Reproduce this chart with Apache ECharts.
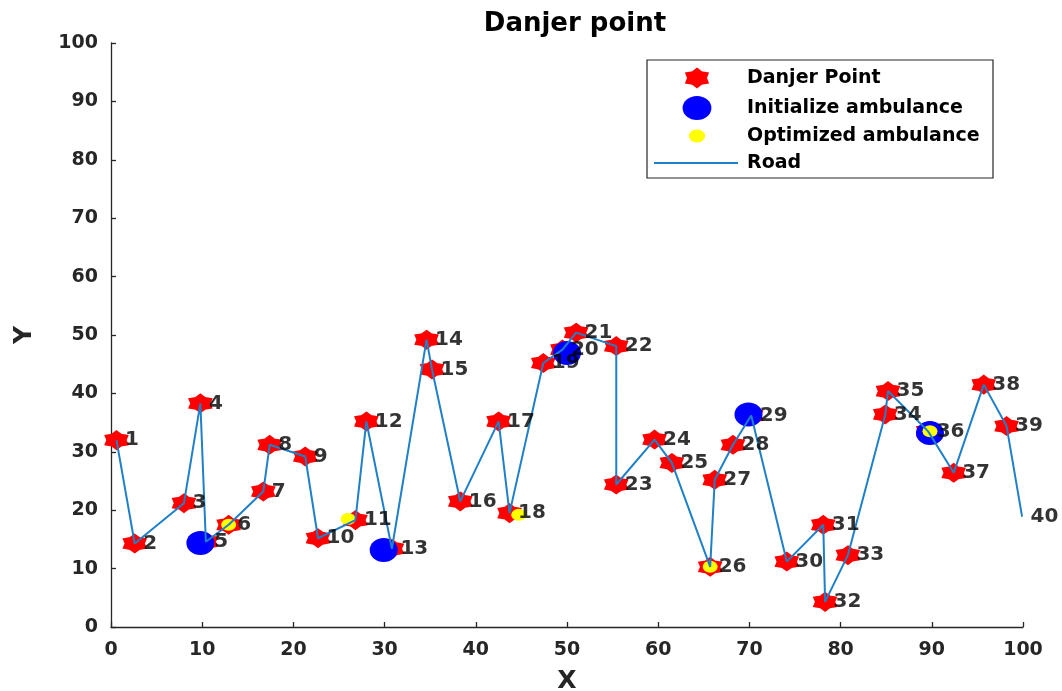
<!DOCTYPE html>
<html>
<head>
<meta charset="utf-8">
<script src="https://cdn.jsdelivr.net/npm/echarts@6/dist/echarts.min.js"></script>
<style>
html,body{margin:0;padding:0;background:#fff;}
#chart{width:1062px;height:691px;}
</style>
</head>
<body>
<div id="chart"></div>
<script>
// Road / danger point coordinates (point i+1)
const roadX = [0.6, 2.6, 8.0, 9.8, 10.4, 12.9, 16.7, 17.4, 21.3, 22.7,
               26.8, 28.0, 30.8, 34.6, 35.2, 38.3, 42.5, 43.7, 47.4, 49.5,
               51.0, 55.4, 55.4, 59.6, 61.5, 65.7, 66.2, 68.2, 70.2, 74.1,
               78.1, 78.3, 80.8, 84.9, 85.2, 89.6, 92.4, 95.7, 98.2, 99.9];
const roadY = [32.0, 14.3, 21.2, 38.3, 14.6, 17.5, 23.2, 31.2, 29.2, 15.2,
               18.3, 35.2, 13.4, 49.2, 44.1, 21.5, 35.2, 19.5, 45.2, 47.5,
               50.4, 48.1, 24.4, 32.1, 28.1, 10.3, 25.2, 31.2, 36.2, 11.2,
               17.5, 4.3, 12.3, 36.4, 40.4, 33.5, 26.4, 41.5, 34.4, 18.9];
const dangerCount = 39; // markers drawn for points 1..39
const initX = [9.8, 29.9, 50.0, 69.9, 89.8];
const initY = [14.4, 13.2, 46.9, 36.4, 33.2];
const optX = [12.9, 26.0, 44.7, 65.7, 89.8];
const optY = [17.5, 18.5, 19.2, 10.3, 33.5];
const axisTicks = [0, 10, 20, 30, 40, 50, 60, 70, 80, 90, 100];
const legendNames = ['Danjer Point', 'Initialize ambulance', 'Optimized ambulance', 'Road'];
const titleText = 'Danjer point';

const FONT = 'DejaVu Sans';
const RI = 0.72;
const hexUnit = [];
for (let k = 0; k < 12; k++) {
  const a = -Math.PI / 2 + k * Math.PI / 6;
  const r = k % 2 ? RI : 1;
  hexUnit.push([r * Math.cos(a), r * Math.sin(a)]);
}
const hexagram = 'path://' + hexUnit.map((p, i) => (i ? 'L' : 'M') + (100 + p[0] * 100).toFixed(1) + ',' + (100 + p[1] * 100).toFixed(1)).join(' ') + ' Z';
const zip = (xs, ys) => xs.map((x, i) => [x, ys[i]]);
const roadData = zip(roadX, roadY);
const dangerData = roadData.slice(0, dangerCount);

const axisCommon = {
  type: 'value', min: axisTicks[0], max: axisTicks[axisTicks.length - 1], interval: 10,
  splitLine: { show: false },
  axisLine: { show: true, lineStyle: { color: '#262626', width: 1.3 } },
  axisTick: { show: true, inside: true, length: 5, lineStyle: { color: '#262626', width: 1.3 } },
  axisLabel: { color: '#262626', fontFamily: FONT, fontWeight: 'bold', fontSize: 19 },
  nameTextStyle: { color: '#262626', fontFamily: FONT, fontWeight: 'bold', fontSize: 25 },
  nameLocation: 'middle'
};

const legendGraphic = [
  { type: 'rect', shape: { x: 647, y: 60, width: 346, height: 118 }, style: { fill: '#fff', stroke: '#262626', lineWidth: 1.2 }, z: 100 },
  { type: 'polygon', x: 697, y: 78, shape: { points: hexUnit.map(p => [p[0] * 12, p[1] * 9]) }, style: { fill: '#ff0000', stroke: '#ff0000', lineWidth: 2.5 }, z: 101 },
  { type: 'circle', x: 697, y: 108, scaleX: 1.2, shape: { cx: 0, cy: 0, r: 12 }, style: { fill: '#0000ff' }, z: 101 },
  { type: 'circle', x: 697, y: 136, scaleX: 1.25, shape: { cx: 0, cy: 0, r: 6.5 }, style: { fill: '#ffff00' }, z: 101 },
  { type: 'line', shape: { x1: 654, y1: 163, x2: 738, y2: 163 }, style: { stroke: '#1f80c8', lineWidth: 2 }, z: 101 }
].concat(legendNames.map((n, i) => ({
  type: 'text', x: 747, y: [78, 108, 136, 163][i], z: 101,
  style: { text: n, fill: '#000', font: 'bold 19px "DejaVu Sans"', verticalAlign: 'middle', align: 'left' }
})));

const chart = echarts.init(document.getElementById('chart'), null, { renderer: 'canvas' });
chart.setOption({
  animation: false,
  backgroundColor: '#fff',
  title: {
    text: titleText, left: 570, top: 6, textAlign: 'center',
    textStyle: { fontFamily: FONT, fontWeight: 'bold', fontSize: 26, color: '#000' }
  },
  grid: { left: 111, right: 39, top: 43, bottom: 64, containLabel: false, outerBoundsMode: 'none' },
  xAxis: Object.assign({}, axisCommon, { name: 'X', nameGap: 42, axisLabel: Object.assign({}, axisCommon.axisLabel, { margin: 14 }) }),
  yAxis: Object.assign({}, axisCommon, { name: 'Y', nameGap: 74, nameRotate: 90, axisLabel: Object.assign({}, axisCommon.axisLabel, { margin: 13 }) }),
  graphic: legendGraphic,
  series: [
    { name: legendNames[0], type: 'scatter', data: dangerData, symbol: hexagram, symbolSize: [21, 17], clip: false, z: 2,
      itemStyle: { color: '#ff0000', borderColor: '#ff0000', borderWidth: 2.5, opacity: 1 } },
    { name: legendNames[1], type: 'scatter', data: zip(initX, initY), symbol: 'circle', symbolSize: [28, 24], clip: false, z: 3,
      itemStyle: { color: '#0000ff', opacity: 1 } },
    { name: legendNames[2], type: 'scatter', data: zip(optX, optY), symbol: 'circle', symbolSize: [15, 12], clip: false, z: 4,
      itemStyle: { color: '#ffff00', opacity: 1 } },
    { name: legendNames[3], type: 'line', data: roadData, showSymbol: false, symbol: 'none', z: 5,
      lineStyle: { color: '#1f80c8', width: 2 } },
    { name: 'labels', type: 'scatter', data: roadData, symbolSize: 1, clip: false, z: 6, silent: true,
      itemStyle: { color: 'rgba(0,0,0,0)' },
      label: { show: true, position: 'right', distance: 8, formatter: p => String(p.dataIndex + 1),
               color: '#000', fontFamily: FONT, fontWeight: 'bold', fontSize: 20 } }
  ]
});
</script>
</body>
</html>
